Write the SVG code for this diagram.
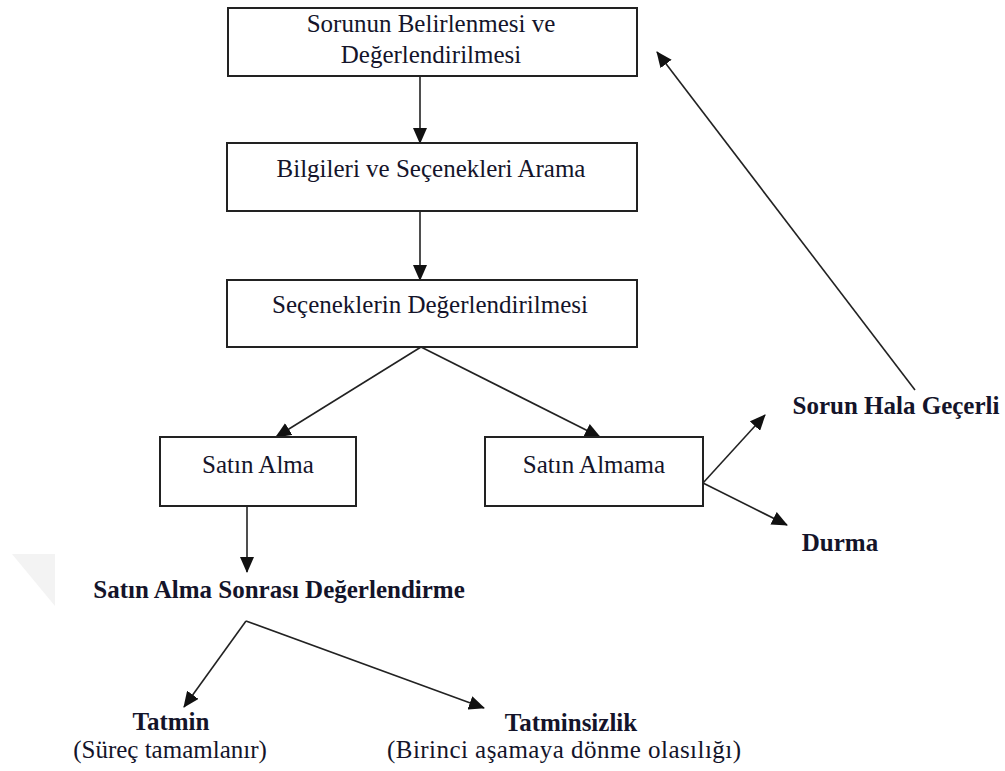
<svg xmlns="http://www.w3.org/2000/svg" width="1005" height="771" viewBox="0 0 1005 771">
<style>
.box{fill:#fff;stroke:#222;stroke-width:2}
.t{font-family:"Liberation Serif","Times New Roman",serif;font-size:25px;fill:#14142a;text-anchor:middle}
.b{font-weight:bold}
.c{stroke:#222;stroke-width:1.6;fill:none;marker-end:url(#ah)}
</style>
<defs>
<marker id="ah" markerUnits="userSpaceOnUse" markerWidth="16" markerHeight="14" refX="15" refY="7" orient="auto">
<path d="M0,0 L16,7 L0,14 Z" fill="#111"/>
</marker>
</defs>
<rect width="1005" height="771" fill="#fff"/>
<polygon points="12,554 55,554 55,606" fill="#f3f3f3"/>
<g id="connectors">
<line class="c" x1="420" y1="76" x2="420" y2="143"/>
<line class="c" x1="420" y1="211" x2="420" y2="280"/>
<line class="c" x1="421" y1="347" x2="276" y2="437"/>
<line class="c" x1="421" y1="347" x2="600" y2="437"/>
<line class="c" x1="703" y1="483" x2="765" y2="415"/>
<line class="c" x1="703" y1="483" x2="787" y2="525"/>
<line class="c" x1="915" y1="390" x2="657" y2="52"/>
<line class="c" x1="247" y1="506" x2="247" y2="572"/>
<line class="c" x1="246" y1="621" x2="184" y2="707"/>
<line class="c" x1="246" y1="621" x2="484" y2="708"/>
</g>
<g id="n1"><rect class="box" x="228" y="8" width="409" height="68"/>
<text class="t" x="431" y="32">Sorunun Belirlenmesi ve</text>
<text class="t" x="431" y="63">Değerlendirilmesi</text></g>
<g id="n2"><rect class="box" x="227" y="143" width="410" height="68"/>
<text class="t" x="431" y="177">Bilgileri ve Seçenekleri Arama</text></g>
<g id="n3"><rect class="box" x="227" y="280" width="410" height="67"/>
<text class="t" x="430" y="313">Seçeneklerin Değerlendirilmesi</text></g>
<g id="n4"><rect class="box" x="160" y="437" width="196" height="69"/>
<text class="t" x="258" y="473">Satın Alma</text></g>
<g id="n5"><rect class="box" x="485" y="437" width="218" height="69"/>
<text class="t" x="594" y="473">Satın Almama</text></g>
<g id="n6"><text class="t b" x="896" y="414">Sorun Hala Geçerli</text></g>
<g id="n7"><text class="t b" x="840" y="551">Durma</text></g>
<g id="n8"><text class="t b" x="279" y="598">Satın Alma Sonrası Değerlendirme</text></g>
<g id="n9"><text class="t b" x="171" y="730">Tatmin</text>
<text class="t" x="170" y="758">(Süreç tamamlanır)</text></g>
<g id="n10"><text class="t b" x="571" y="731">Tatminsizlik</text>
<text class="t" x="564" y="758" textLength="354">(Birinci aşamaya dönme olasılığı)</text></g>
</svg>
